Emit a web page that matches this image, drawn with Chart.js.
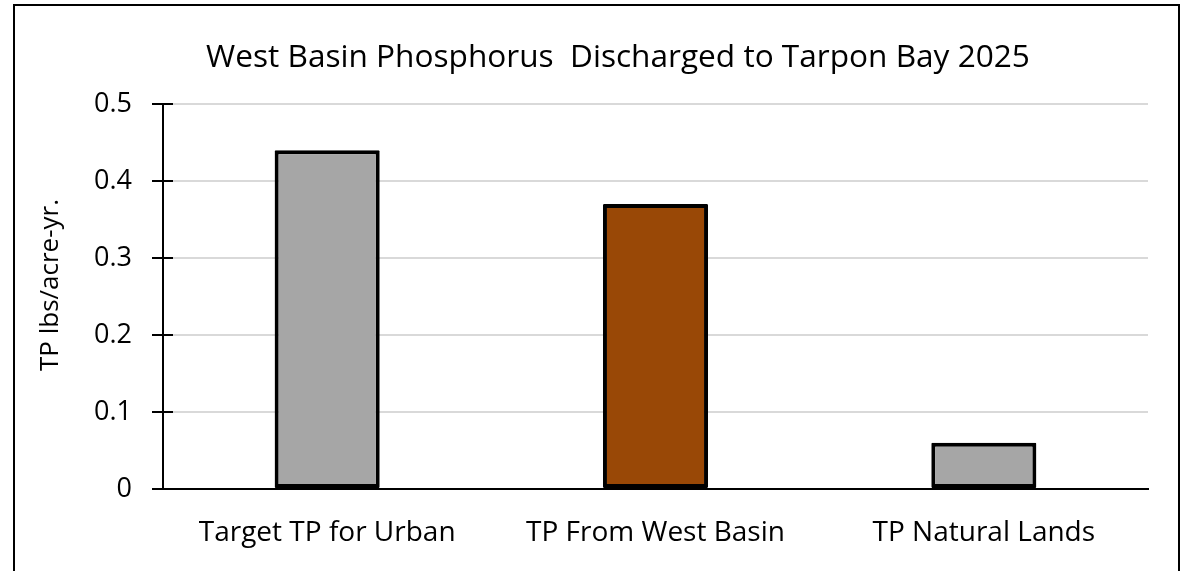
<!DOCTYPE html>
<html>
<head>
<meta charset="utf-8">
<script src="https://cdn.jsdelivr.net/npm/chart.js@4"></script>
<style>
  html, body { margin: 0; padding: 0; background: #fff; }
  #wrap { position: relative; width: 1184px; height: 571px; }
  #frame { position: absolute; left: 13px; top: 4px; width: 1167px; height: 575px; border: 2px solid #000; box-sizing: border-box; pointer-events: none; }
  canvas { position: absolute; left: 0; top: 0; }
</style>
</head>
<body>
<div id="wrap">
  <canvas id="c" width="1184" height="571"></canvas>
  <div id="frame"></div>
</div>
<script>
const titleText = "West Basin Phosphorus  Discharged to Tarpon Bay 2025";
const yAxisTitle = "TP lbs/acre-yr.";
const categories = ["Target TP for Urban", "TP From West Basin", "TP Natural Lands"];
const values = [0.44, 0.37, 0.06];
const barColors = ["#A6A6A6", "#994806", "#A6A6A6"];
const yMin = 0, yMax = 0.5, yStep = 0.1;

const FONT = "'Open Sans', sans-serif";

const textPlugin = {
  id: 'customText',
  afterDraw(chart) {
    const ctx = chart.ctx;
    ctx.save();
    ctx.fillStyle = "#000";
    ctx.textAlign = "center";
    ctx.textBaseline = "middle";
    ctx.font = "31.6px " + FONT;
    ctx.fillText(titleText, 618, 58);
    ctx.translate(51, 285);
    ctx.rotate(-Math.PI / 2);
    ctx.font = "26px " + FONT;
    ctx.fillText(yAxisTitle, 0, 0);
    ctx.restore();
  }
};

const innerTicks = {
  id: 'innerTicks',
  afterDatasetsDraw(chart) {
    const y = chart.scales.y;
    const ctx = chart.ctx;
    const x0 = chart.chartArea.left;
    ctx.save();
    ctx.strokeStyle = "#000";
    ctx.lineWidth = 2;
    y.ticks.forEach(t => {
      const py = Math.round(y.getPixelForValue(t.value));
      ctx.beginPath();
      ctx.moveTo(x0, py);
      ctx.lineTo(x0 + 10, py);
      ctx.stroke();
    });
    ctx.restore();
  }
};

new Chart(document.getElementById('c'), {
  type: 'bar',
  data: {
    labels: categories,
    datasets: [{
      data: values,
      backgroundColor: barColors,
      borderColor: "#000",
      borderWidth: 4,
      borderSkipped: false,
      borderRadius: 1,
      barPercentage: 0.32,
      categoryPercentage: 1.0
    }]
  },
  options: {
    responsive: false,
    animation: false,
    layout: { padding: { left: 0, top: 104, right: 36, bottom: 0 } },
    plugins: { legend: { display: false }, tooltip: { enabled: false }, title: { display: false } },
    scales: {
      x: {
        grid: { display: false, drawTicks: false },
        border: { color: "#000", width: 2 },
        ticks: { color: "#000", font: { family: FONT, size: 28 }, padding: 27 },
        afterFit(scale) { scale.height = 571 - 489; }
      },
      y: {
        min: yMin, max: yMax,
        grid: { color: "#D9D9D9", lineWidth: 2, tickLength: 11, tickColor: "#000", tickWidth: 2 },
        border: { color: "#000", width: 2 },
        ticks: { stepSize: yStep, color: "#000", font: { family: FONT, size: 27 }, padding: 20,
                 callback: v => (Math.round(v * 10) / 10).toString() },
        afterFit(scale) { scale.width = 163; }
      }
    }
  },
  plugins: [textPlugin, innerTicks]
});
</script>
</body>
</html>
